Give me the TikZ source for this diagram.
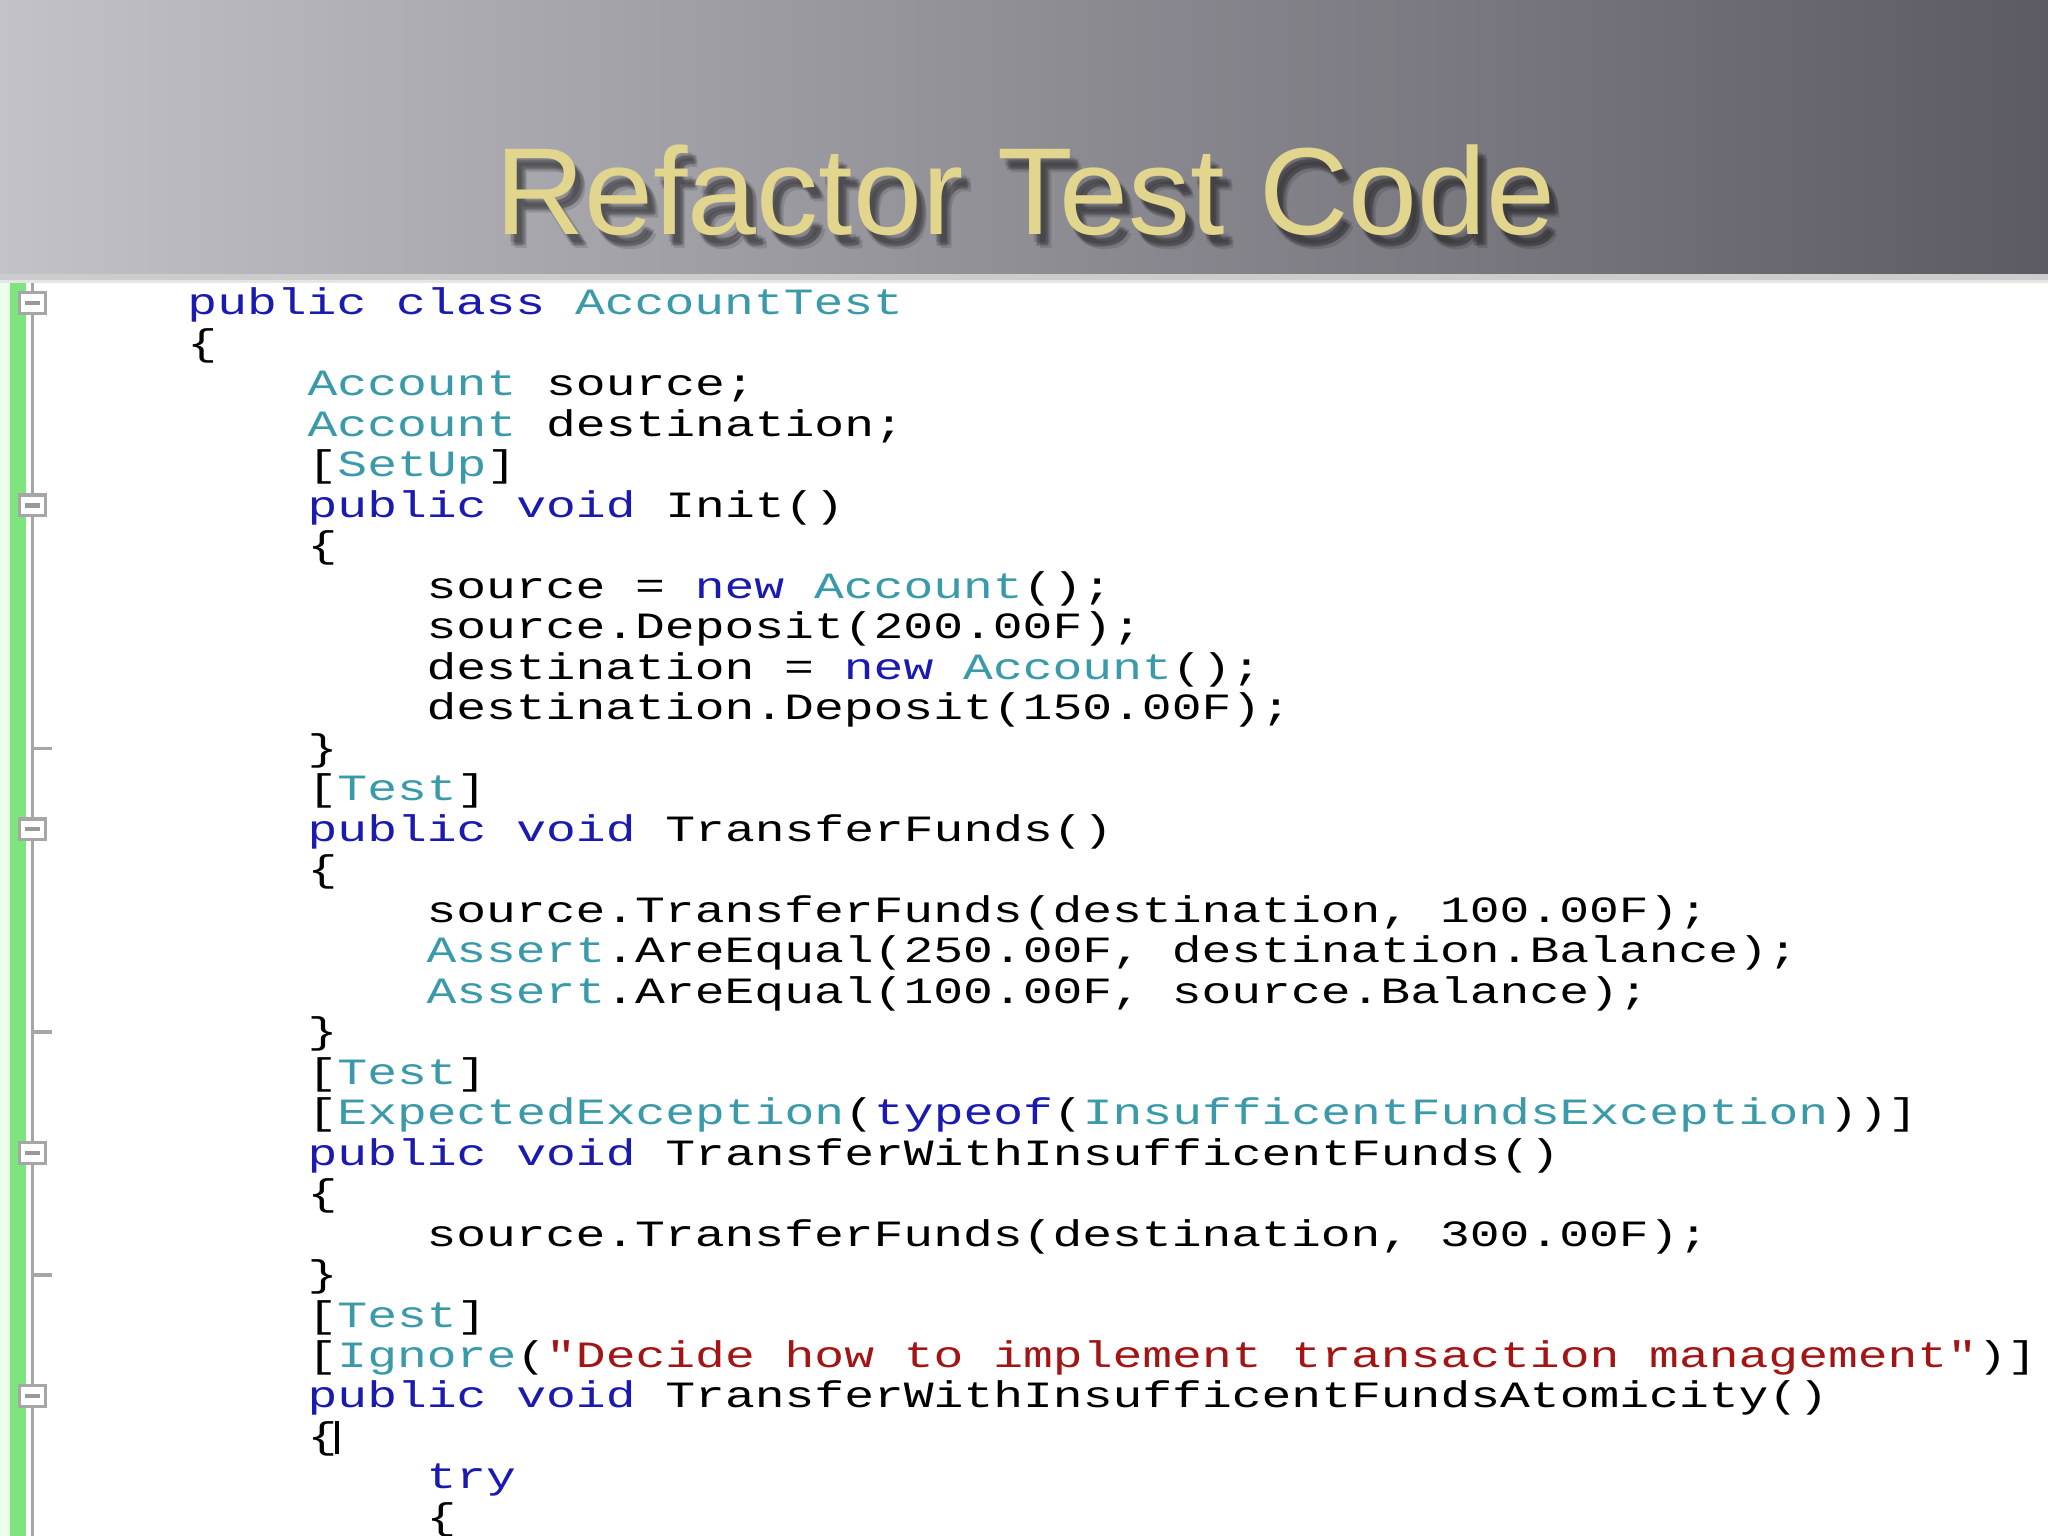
\documentclass[tikz,border=0pt]{standalone}
\usepackage{fontspec}
\setmainfont{Liberation Sans}
\newfontfamily\codefont[FakeStretch=1.34]{Liberation Mono}
\definecolor{kwc}{HTML}{1A1AB0}
\definecolor{tyc}{HTML}{3A9AAA}
\definecolor{stc}{HTML}{A31515}
\definecolor{gold}{HTML}{E2D68E}
\definecolor{bandL}{HTML}{C2C2C8}
\definecolor{bandR}{HTML}{5C5A62}
\newcommand{\kw}[1]{\textcolor{kwc}{#1}}
\newcommand{\ty}[1]{\textcolor{tyc}{#1}}
\newcommand{\sr}[1]{\textcolor{stc}{#1}}
\newcommand{\ttl}{\resizebox{10.6cm}{!}{\fontsize{34pt}{40pt}\selectfont Refactor Test Code}}
\tikzset{code/.style={anchor=base west,inner sep=0pt,font=\codefont\fontsize{10.55pt}{12pt}\selectfont,text=black}}
\begin{document}
\begin{tikzpicture}[x=0.01306cm,y=-0.01306cm]
\useasboundingbox (0,0) rectangle (1568,1176);
\shade[left color=bandL,right color=bandR] (0,0) rectangle (1568,210);
\fill[white] (0,210) rectangle (1568,1176);
\fill[gray!40] (0,210) rectangle (1568,214);
\fill[gray!20] (0,214) rectangle (1568,217);
% title with soft shadow
\foreach \dx/\dy in {6/8,4/6,8/10,5/9,7/7}
  \node[inner sep=0pt,text=black,opacity=0.12] at (785+\dx,146+\dy) {\ttl};
\node[inner sep=0pt,text=gold] (title) at (785,146) {\ttl};
% margin
\fill[green!8!white] (0,217) rectangle (8,1176);
\fill[green!45!white!90!black] (8,217) rectangle (20,1176);
\draw[gray!70,line width=1pt] (25,217) -- (25,1176);
\foreach \y in {232,387,635,883,1069} {
  \draw[gray!70,fill=white,line width=0.9pt] (15,\y-8) rectangle (35,\y+8);
  \draw[gray!80,line width=1.2pt] (19,\y) -- (31,\y);}
\foreach \y in {573,790,976} \draw[gray!70,line width=1pt] (25,\y) -- (40,\y);
% code
\def\A{143}\def\B{235}\def\C{326}
\node[code] (l1) at (\A,241) {\kw{public} \kw{class} \ty{AccountTest}};
\node[code] (l2) at (\A,272) {\{};
\node[code] (l3) at (\B,303) {\ty{Account} source;};
\node[code] (l4) at (\B,334) {\ty{Account} destination;};
\node[code] (l5) at (\B,365) {[\ty{SetUp}]};
\node[code] (l6) at (\B,396) {\kw{public} \kw{void} Init()};
\node[code] (l7) at (\B,427) {\{};
\node[code] (l8) at (\C,458) {source = \kw{new} \ty{Account}();};
\node[code] (l9) at (\C,489) {source.Deposit(200.00F);};
\node[code] (l10) at (\C,520) {destination = \kw{new} \ty{Account}();};
\node[code] (l11) at (\C,551) {destination.Deposit(150.00F);};
\node[code] (l12) at (\B,582) {\}};
\node[code] (l13) at (\B,613) {[\ty{Test}]};
\node[code] (l14) at (\B,644) {\kw{public} \kw{void} TransferFunds()};
\node[code] (l15) at (\B,675) {\{};
\node[code] (l16) at (\C,706) {source.TransferFunds(destination, 100.00F);};
\node[code] (l17) at (\C,737) {\ty{Assert}.AreEqual(250.00F, destination.Balance);};
\node[code] (l18) at (\C,768) {\ty{Assert}.AreEqual(100.00F, source.Balance);};
\node[code] (l19) at (\B,799) {\}};
\node[code] (l20) at (\B,830) {[\ty{Test}]};
\node[code] (l21) at (\B,861) {[\ty{ExpectedException}(\kw{typeof}(\ty{InsufficentFundsException}))]};
\node[code] (l22) at (\B,892) {\kw{public} \kw{void} TransferWithInsufficentFunds()};
\node[code] (l23) at (\B,923) {\{};
\node[code] (l24) at (\C,954) {source.TransferFunds(destination, 300.00F);};
\node[code] (l25) at (\B,985) {\}};
\node[code] (l26) at (\B,1016) {[\ty{Test}]};
\node[code] (l27) at (\B,1047) {[\ty{Ignore}(\sr{"Decide how to implement transaction management"})]};
\node[code] (l28) at (\B,1078) {\kw{public} \kw{void} TransferWithInsufficentFundsAtomicity()};
\node[code] (l29) at (\B,1109) {\{};
\draw[black,line width=1.2pt] (258,1088) -- (258,1113);
\node[code] (l30) at (\C,1140) {\kw{try}};
\node[code] (l31) at (\C,1171) {\{};
\end{tikzpicture}
\end{document}
